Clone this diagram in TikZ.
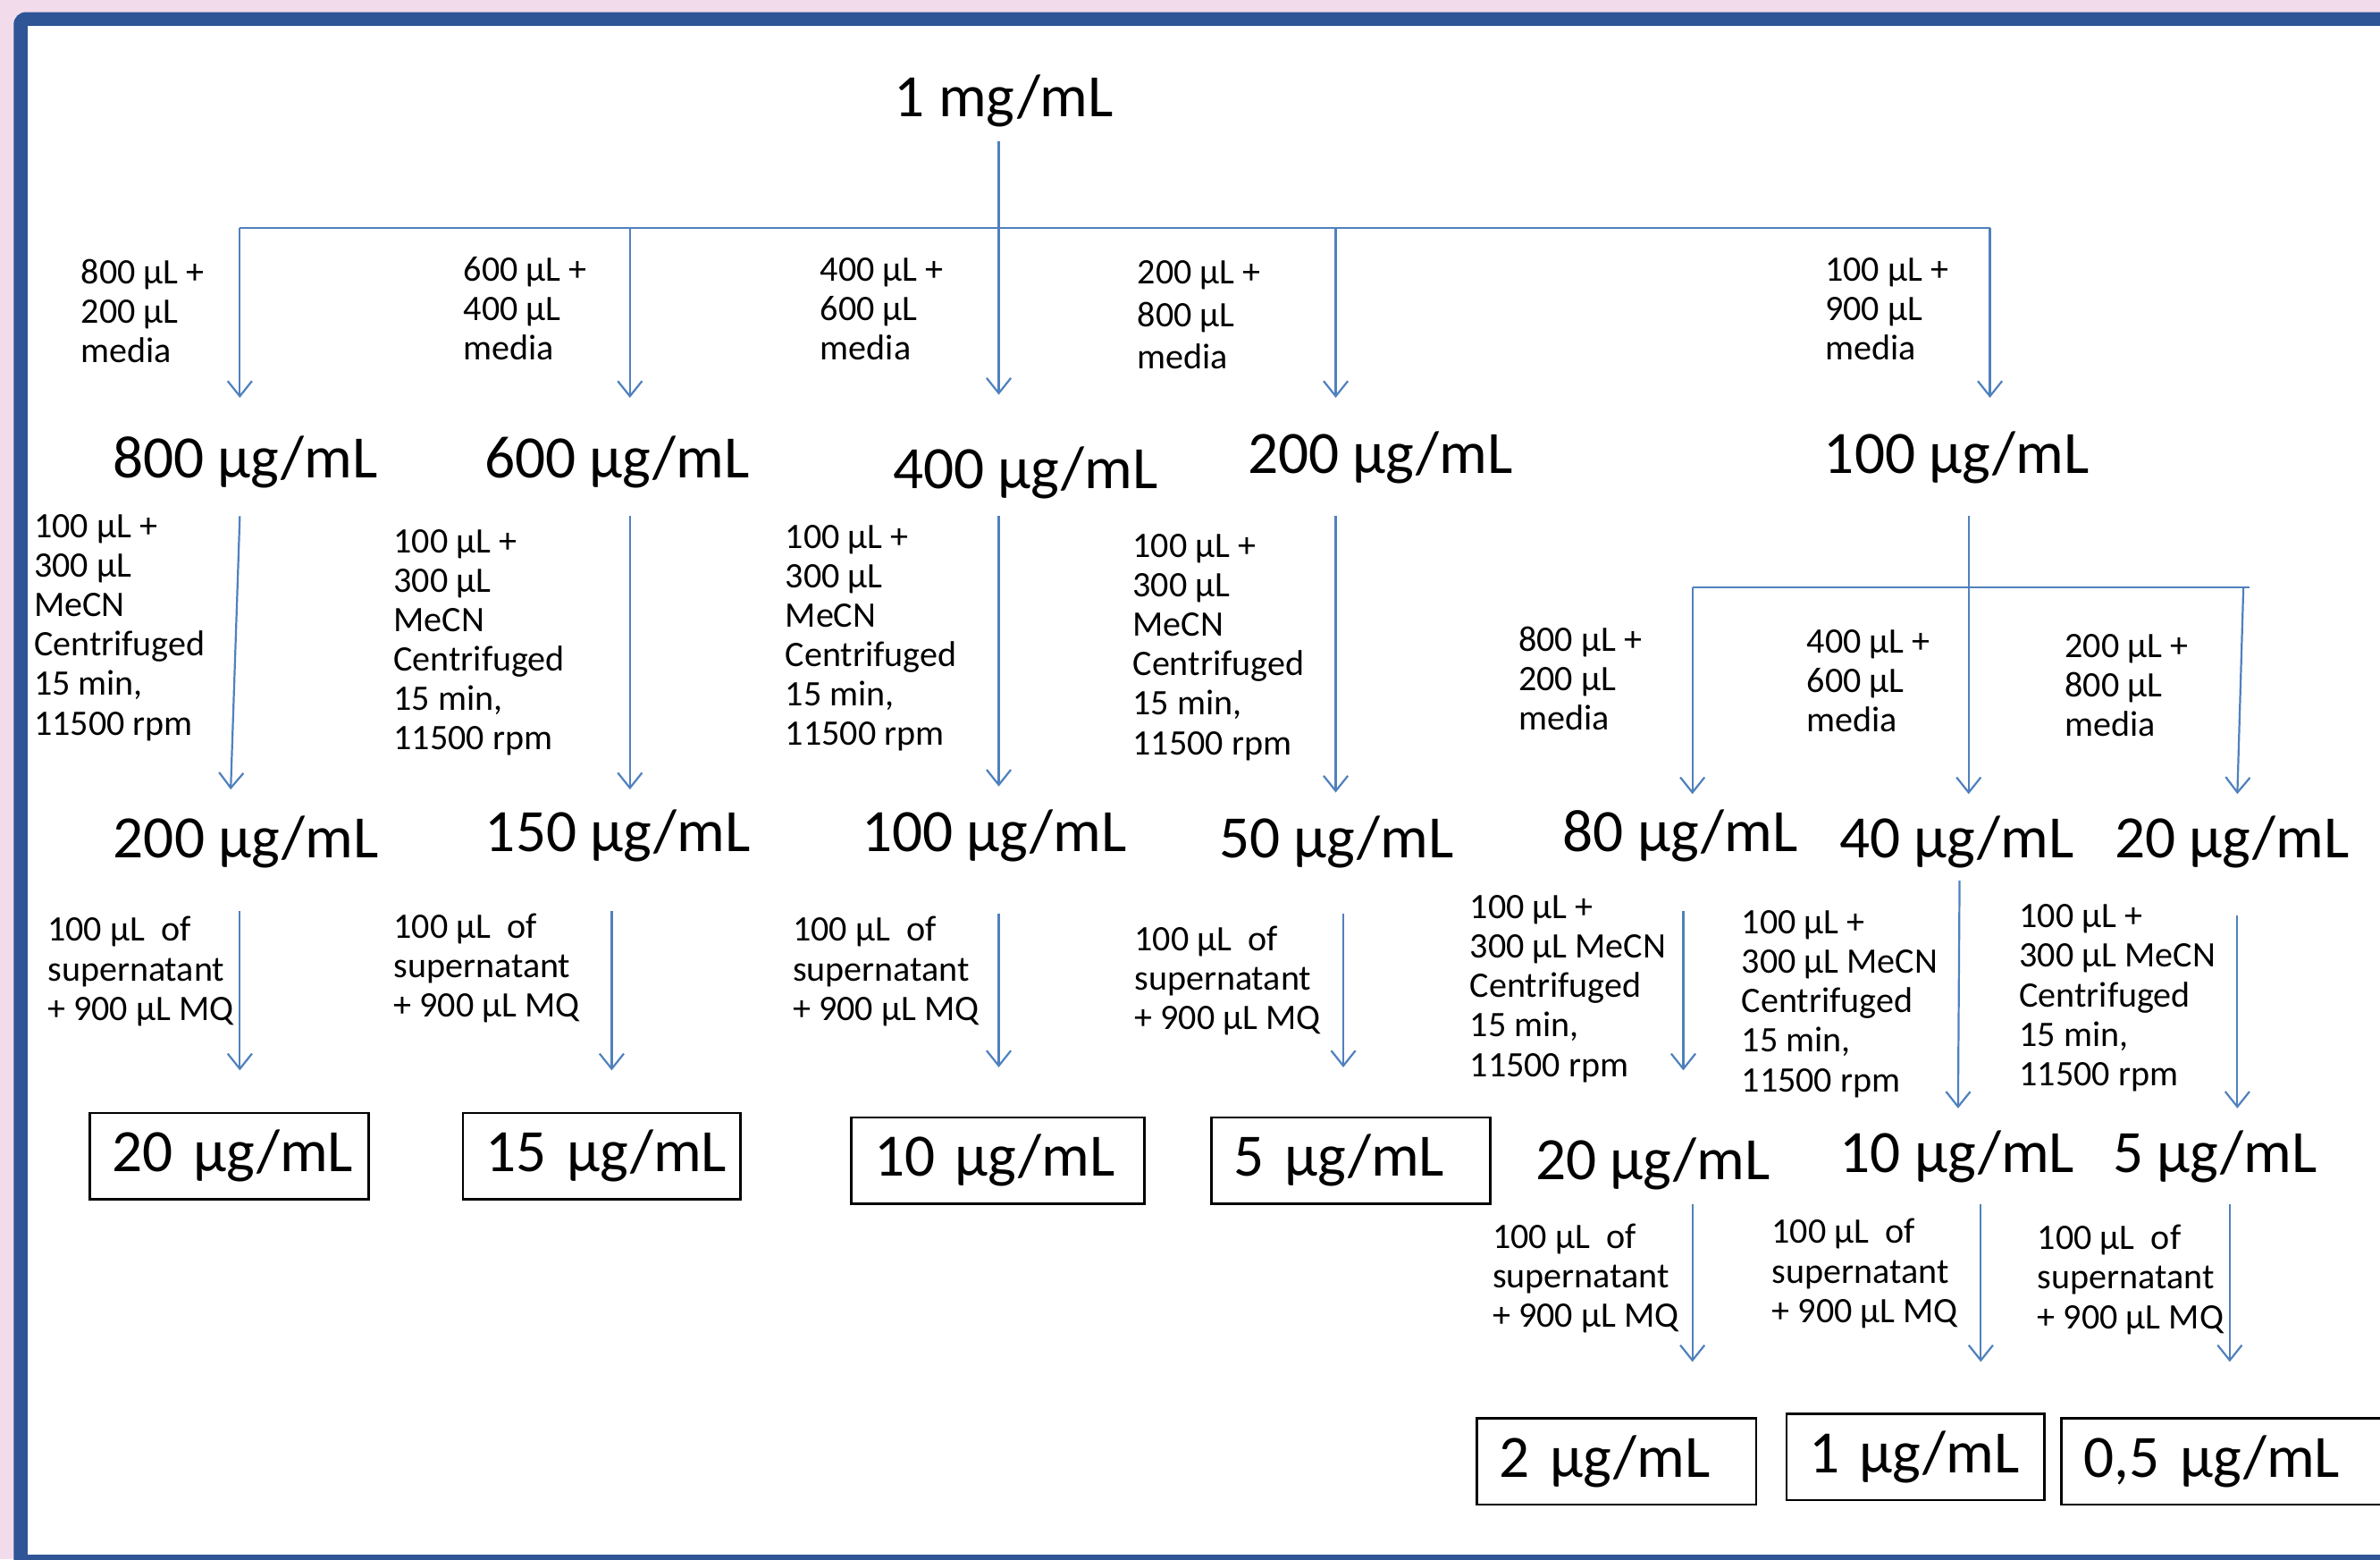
\documentclass[tikz,border=0pt]{standalone}
\usepackage{fontspec}
\setmainfont{Carlito}
\usetikzlibrary{arrows.meta}
\definecolor{pinkbg}{HTML}{F2DCEB}
\definecolor{frameblue}{HTML}{2F5597}
\definecolor{arrblue}{HTML}{4F81BD}
\begin{document}
\begin{tikzpicture}[x=0.5pt,y=-0.5pt,
  big/.style={font=\fontsize{19.8}{23}\selectfont, inner sep=0pt, anchor=base},
  small/.style={font=\fontsize{11.8}{13}\selectfont, align=left, anchor=base west, inner sep=0pt},
  box/.style={draw=black, line width=0.8pt, inner xsep=7.5pt, inner ysep=0pt, align=left,
     minimum height=28.5pt, font=\fontsize{19.8}{23}\selectfont},
  conn/.style={arrblue, line width=0.65pt},
  arr/.style={conn, -{Straight Barb[length=5pt,width=8pt]}},
]
\clip (0,0) rectangle (1568,1027);
\fill[pinkbg] (0,0) rectangle (1568,1027);
\fill[frameblue, rounded corners=4pt] (9,8) rectangle (1620,1060);
\fill[white] (18,17) rectangle (1620,1024);

% ---------- level 1
\node[big] (top) at (661.5,77) {1 mg/mL};

% ---------- level 2
\node[big] (n800) at (161.5,315) {800 µg/mL};
\node[big] (n600) at (406.5,315) {600 µg/mL};
\node[big] (n400) at (675.5,322) {400 µg/mL};
\node[big] (n200) at (909.5,312) {200 µg/mL};
\node[big] (n100) at (1289,312) {100 µg/mL};

% ---------- level 3
\node[big] (m200) at (162,565) {200 µg/mL};
\node[big] (m150) at (407,561) {150 µg/mL};
\node[big] (m100) at (655,561) {100 µg/mL};
\node[big] (m50)  at (880.5,565) {50 µg/mL};
\node[big] (m80)  at (1107,561) {80 µg/mL};
\node[big] (m40)  at (1289,565) {40 µg/mL};
\node[big] (m20)  at (1470.5,565) {20 µg/mL};

% ---------- level 4
\node[box, text width=77pt]   (f20) at (151,761.5) {\mbox{20 µg/mL}};
\node[box, text width=76.5pt] (f15) at (396.5,761.5) {\mbox{15 µg/mL}};
\node[box, text width=81.5pt] (f10) at (657.5,764.5) {\mbox{10 µg/mL}};
\node[box, text width=77pt]   (f5)  at (890,764.5) {\mbox{5 µg/mL}};
\node[big] (k20) at (1089,777) {20 µg/mL};
\node[big] (k10) at (1289.5,772) {10 µg/mL};
\node[big] (k5)  at (1459.5,772) {5 µg/mL};

% ---------- level 5
\node[box, text width=77pt]  (g2)  at (1065,962.5) {\mbox{2 µg/mL}};
\node[box, text width=70pt]  (g1)  at (1262,959.5) {\mbox{1 µg/mL}};
\node[box, text width=116pt] (g05) at (1489,962.5) {\mbox{0,5 µg/mL}};

% ---------- small labels (anchor = baseline of last line)
\node[small] (la1) at (53,239)   {800 µL +\\200 µL\\media};
\node[small] (la2) at (305,237)  {600 µL +\\400 µL\\media};
\node[small] (la3) at (540,237)  {400 µL +\\600 µL\\media};
\node[small, font=\fontsize{11.8}{14}\selectfont] (la4) at (749,243) {200 µL +\\800 µL\\media};
\node[small] (la5) at (1202,237) {100 µL +\\900 µL\\media};

\node[small] (lb1) at (22,484)  {100 µL +\\300 µL\\MeCN\\Centrifuged\\15 min,\\11500 rpm};
\node[small] (lb2) at (259,494) {100 µL +\\300 µL\\MeCN\\Centrifuged\\15 min,\\11500 rpm};
\node[small] (lb3) at (517,491) {100 µL +\\300 µL\\MeCN\\Centrifuged\\15 min,\\11500 rpm};
\node[small] (lb4) at (746,497) {100 µL +\\300 µL\\MeCN\\Centrifuged\\15 min,\\11500 rpm};
\node[small] (lb5) at (1000,481) {800 µL +\\200 µL\\media};
\node[small] (lb6) at (1190,482) {400 µL +\\600 µL\\media};
\node[small] (lb7) at (1360,485) {200 µL +\\800 µL\\media};

\node[small] (lc1) at (31,672)  {100 µL\ \ of\\supernatant\\+ 900 µL MQ};
\node[small] (lc2) at (259,670) {100 µL\ \ of\\supernatant\\+ 900 µL MQ};
\node[small] (lc3) at (522,672) {100 µL\ \ of\\supernatant\\+ 900 µL MQ};
\node[small] (lc4) at (747,678) {100 µL\ \ of\\supernatant\\+ 900 µL MQ};
\node[small] (lc5) at (968,709)  {100 µL +\\300 µL MeCN\\Centrifuged\\15 min,\\11500 rpm};
\node[small] (lc6) at (1147,719) {100 µL +\\300 µL MeCN\\Centrifuged\\15 min,\\11500 rpm};
\node[small] (lc7) at (1330,715) {100 µL +\\300 µL MeCN\\Centrifuged\\15 min,\\11500 rpm};

\node[small] (ld1) at (983,874)  {100 µL\ \ of\\supernatant\\+ 900 µL MQ};
\node[small] (ld2) at (1167,871) {100 µL\ \ of\\supernatant\\+ 900 µL MQ};
\node[small] (ld3) at (1342,875) {100 µL\ \ of\\supernatant\\+ 900 µL MQ};

% ---------- connector end points
\coordinate (t0) at (658,93);
\coordinate (busL) at (158,150);
\coordinate (j600) at (415,150);
\coordinate (j200) at (880,150);
\coordinate (busR) at (1311,150);
\coordinate (i800) at (158,262);
\coordinate (i600) at (415,262);
\coordinate (i400) at (658,260);
\coordinate (i200) at (880,262);
\coordinate (i100) at (1311,262);

\coordinate (o800) at (158,340);
\coordinate (o600) at (415,340);
\coordinate (o400) at (658,340);
\coordinate (o200) at (880,340);
\coordinate (o100) at (1297,340);
\coordinate (i200b) at (152,520);
\coordinate (i150) at (415,520);
\coordinate (i100b) at (658,518);
\coordinate (i50) at (880,522);
\coordinate (b2L) at (1115,387);
\coordinate (b2R) at (1482,387);
\coordinate (b2d) at (1478,387);
\coordinate (i80) at (1115,523);
\coordinate (i40) at (1297,523);
\coordinate (i20) at (1474,523);

\coordinate (p200) at (158,600);  \coordinate (q20) at (158,705);
\coordinate (p150) at (403,600);  \coordinate (q15) at (403,705);
\coordinate (p100) at (658,602);  \coordinate (q10) at (658,703);
\coordinate (p50)  at (885,602);  \coordinate (q5)  at (885,703);
\coordinate (p80)  at (1109,600); \coordinate (qk20) at (1109,705);
\coordinate (p40)  at (1291,580); \coordinate (qk10) at (1290,730);
\coordinate (p20)  at (1474,603); \coordinate (qk5)  at (1474,730);

\coordinate (r20) at (1115,793); \coordinate (s2) at (1115,897);
\coordinate (r10) at (1305,793); \coordinate (s1) at (1305,897);
\coordinate (r5)  at (1469,793); \coordinate (s05) at (1469,897);

% ---------- connectors
\draw[conn] (busL) -- (busR);
\draw[arr] (t0) -- (i400);
\draw[arr] (busL) -- (i800);
\draw[arr] (j600) -- (i600);
\draw[arr] (j200) -- (i200);
\draw[arr] (busR) -- (i100);

\draw[arr] (o800) -- (i200b);
\draw[arr] (o600) -- (i150);
\draw[arr] (o400) -- (i100b);
\draw[arr] (o200) -- (i50);
\draw[arr] (o100) -- (i40);
\draw[conn] (b2L) -- (b2R);
\draw[arr] (b2L) -- (i80);
\draw[arr] (b2d) -- (i20);

\draw[arr] (p200) -- (q20);
\draw[arr] (p150) -- (q15);
\draw[arr] (p100) -- (q10);
\draw[arr] (p50) -- (q5);
\draw[arr] (p80) -- (qk20);
\draw[arr] (p40) -- (qk10);
\draw[arr] (p20) -- (qk5);

\draw[arr] (r20) -- (s2);
\draw[arr] (r10) -- (s1);
\draw[arr] (r5) -- (s05);
\end{tikzpicture}
\end{document}
